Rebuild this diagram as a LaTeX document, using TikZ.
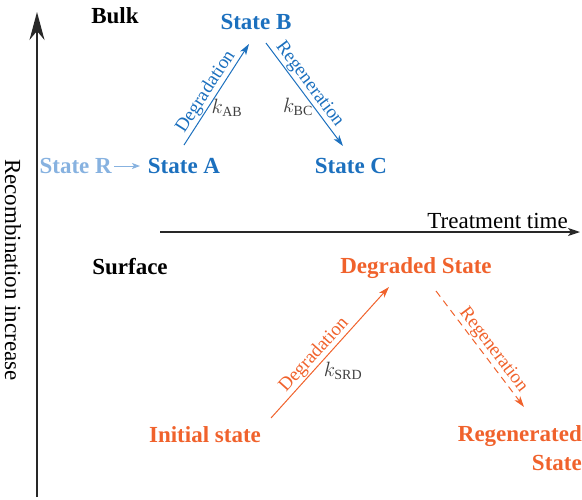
\documentclass[tikz,border=0pt]{standalone}
\usepackage{fontspec}
\setmainfont{Liberation Serif}
\usetikzlibrary{arrows.meta}
\definecolor{bulkblue}{RGB}{28,112,190}
\definecolor{lightblue}{RGB}{135,178,224}
\definecolor{surforange}{RGB}{240,98,44}
\definecolor{axisgray}{RGB}{40,40,40}
\tikzset{
  big/.style={font=\fontsize{23}{26}\selectfont},
  state/.style={font=\fontsize{23}{26}\selectfont\bfseries, inner sep=0pt},
  bulkst/.style={state, text=bulkblue},
  surfst/.style={state, text=surforange},
  head/.style={state, text=black},
  axis/.style={draw=axisgray, line width=1.6pt, -{Stealth[length=28pt,width=15pt,inset=9pt]}},
  haxis/.style={draw=axisgray, line width=1.2pt, -{Stealth[length=12pt,width=8pt,inset=3pt]}},
  blueflow/.style={draw=bulkblue, line width=1pt, -{Stealth[length=11pt,width=7pt,inset=3pt]}},
  orangeflow/.style={draw=surforange, line width=1pt, -{Stealth[length=11pt,width=7pt,inset=3pt]}},
  lab/.style={font=\fontsize{19}{21}\selectfont, inner sep=1pt},
  rate/.style={font=\fontsize{20}{22}\selectfont, text=black!75, inner sep=0pt},
}
\begin{document}
\begin{tikzpicture}[x=1pt,y=-1pt]
\useasboundingbox (0,0) rectangle (582,499);
% axes
\coordinate (vbot) at (37,497);
\coordinate (vtop) at (37,12);
\draw[axis] (vbot) -- (vtop);
\node[big, rotate=-90, inner sep=0pt] (ylab) at (13,270) {Recombination increase};
\coordinate (hstart) at (160,232);
\coordinate (hend) at (580,232);
\draw[haxis] (hstart) -- (hend);
\node[big, anchor=base east, inner sep=0pt] (xlab) at (568,228) {Treatment time};
% headers
\node[head] (bulk) at (115,16) {Bulk};
\node[head] (surface) at (130,267) {Surface};
% bulk states
\node[state, text=lightblue, anchor=east] (stR) at (112,166) {State R};
\node[bulkst] (stA) at (184,166) {State A};
\node[bulkst] (stB) at (256,22) {State B};
\node[bulkst] (stC) at (351,166) {State C};
\coordinate (rs) at (114,166);
\coordinate (re) at (140,166);
\draw[draw=lightblue, line width=1pt, -{Stealth[length=8pt,width=6pt,inset=2pt]}] (rs) -- (re);
\coordinate (ab1) at (184,145);
\coordinate (ab2) at (249,44);
\draw[blueflow] (ab1) -- node[lab, text=bulkblue, sloped, above, pos=0.47] (degAB) {Degradation} (ab2);
\node[rate] (kAB) at (227,108) {$k_{\mathrm{AB}}$};
\coordinate (bc1) at (266,43);
\coordinate (bc2) at (343,146);
\draw[blueflow] (bc1) -- node[lab, text=bulkblue, sloped, above, pos=0.46] (regBC) {Regeneration} (bc2);
\node[rate] (kBC) at (298,107) {$k_{\mathrm{BC}}$};
% surface states
\node[surfst] (deg) at (416,268) {Degraded State};
\node[surfst] (init) at (205,435) {Initial state};
\node[surfst, align=right, anchor=north east, font=\fontsize{23}{29}\selectfont\bfseries] (regen) at (582,425) {Regenerated\\State};
\coordinate (s1) at (271,418);
\coordinate (s2) at (389,287);
\draw[orangeflow] (s1) -- node[lab, text=surforange, sloped, above, pos=0.43] (degS) {Degradation} (s2);
\node[rate] (kS) at (343,371) {$k_{\mathrm{SRD}}$};
\coordinate (r1) at (436,291);
\coordinate (r2) at (524,407);
\draw[orangeflow, dashed, dash pattern=on 7pt off 5pt] (r1) -- node[lab, text=surforange, sloped, above, pos=0.56] (regS) {Regeneration} (r2);
\end{tikzpicture}
\end{document}
